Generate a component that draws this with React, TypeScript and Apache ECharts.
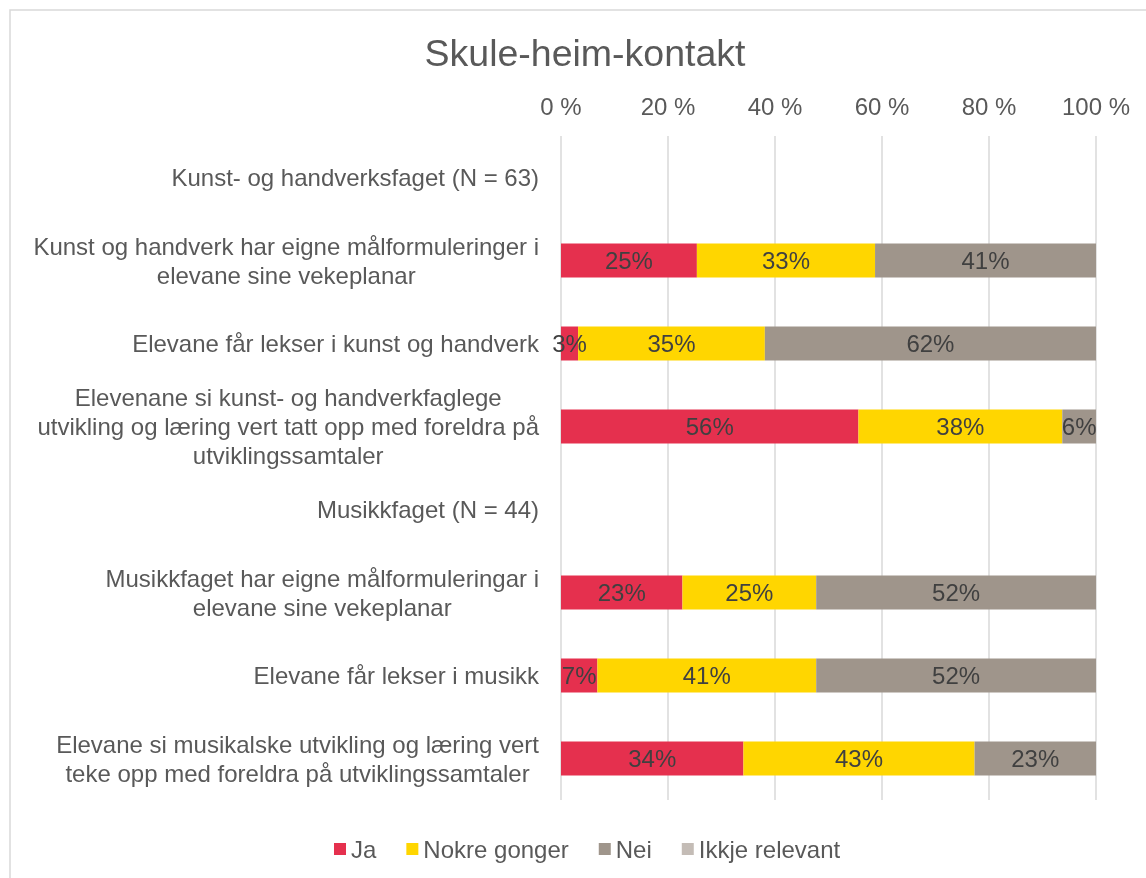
import React, { useEffect, useRef } from "react";
import * as echarts from "echarts";

const categories = [
  "Kunst- og handverksfaget (N = 63)",
  "Kunst og handverk har eigne målformuleringer i\nelevane sine vekeplanar",
  "Elevane får lekser i kunst og handverk",
  "Elevenane si kunst- og handverkfaglege\nutvikling og læring vert tatt opp med foreldra på\nutviklingssamtaler",
  "Musikkfaget (N = 44)",
  "Musikkfaget har eigne målformuleringar i\nelevane sine vekeplanar",
  "Elevane får lekser i musikk",
  "Elevane si musikalske utvikling og læring vert\nteke opp med foreldra på utviklingssamtaler",
];

const seriesNames = ["Ja", "Nokre gonger", "Nei", "Ikkje relevant"];
const ja = [null, 25.4, 3.2, 55.6, null, 22.7, 6.8, 34.1];
const nokre = [null, 33.3, 34.9, 38.1, null, 25.0, 40.9, 43.2];
const nei = [null, 41.3, 61.9, 6.3, null, 52.3, 52.3, 22.7];
const ikkje = [null, 0, 0, 0, null, 0, 0, 0];
const xTicks = [0, 20, 40, 60, 80, 100];

const colors = ["#E5304E", "#FFD600", "#9F958B", "#C4BCB6"];
const FONT = "'Liberation Sans', Arial, sans-serif";

function measure(text: string, size: number): number {
  const c = document.createElement("canvas");
  const ctx = c.getContext("2d");
  if (!ctx) return text.length * size * 0.5;
  ctx.font = `${size}px ${FONT}`;
  return ctx.measureText(text).width;
}

export default function App() {
  const ref = useRef<HTMLDivElement>(null);
  useEffect(() => {
    if (!ref.current) return;
    const chart = echarts.init(ref.current, null, { renderer: "svg" });
    const rich: Record<string, any> = {};
    categories.forEach((c, i) => {
      const w = Math.max(...c.split("\n").map((l) => measure(l, 24))) + 2;
      rich["r" + i] = {
        width: w,
        align: "center",
        fontSize: 24,
        lineHeight: 29,
        color: "#595959",
        fontFamily: FONT,
      };
    });
    const data = [ja, nokre, nei, ikkje];
    chart.setOption({
      animation: false,
      textStyle: { fontFamily: FONT },
      graphic: [
        {
          type: "rect",
          shape: { x: 10, y: 10, width: 1160, height: 890 },
          style: { fill: "none", stroke: "#d9d9d9", lineWidth: 1.5 },
          silent: true,
        },
      ],
      title: {
        text: "Skule-heim-kontakt",
        left: 580,
        top: 29,
        textAlign: "center",
        textStyle: {
          fontSize: 37.5,
          fontWeight: "normal",
          color: "#595959",
          fontFamily: FONT,
        },
      },
      legend: {
        data: seriesNames,
        left: 334,
        top: 837,
        padding: 0,
        itemGap: 30,
        itemWidth: 12,
        itemHeight: 12,
        icon: "rect",
        textStyle: { fontSize: 24, color: "#595959", fontFamily: FONT },
      },
      grid: { left: 561, right: 50, top: 136, height: 664, containLabel: false },
      xAxis: {
        type: "value",
        position: "top",
        min: xTicks[0],
        max: xTicks[xTicks.length - 1],
        interval: 20,
        axisLine: { show: false },
        axisTick: { show: false },
        axisLabel: {
          formatter: "{value} %",
          fontSize: 24,
          color: "#595959",
          margin: 18,
          fontFamily: FONT,
        },
        splitLine: { lineStyle: { color: "#d9d9d9", width: 1.5 } },
      },
      yAxis: {
        type: "category",
        inverse: true,
        data: categories,
        axisLine: { show: false },
        axisTick: { show: false },
        axisLabel: {
          margin: 21,
          formatter: (v: string, i: number) =>
            v
              .split("\n")
              .map((l) => `{r${i}|${l}}`)
              .join("\n"),
          rich,
        },
      },
      series: seriesNames.map((name, k) => ({
        name,
        type: "bar",
        stack: "total",
        barWidth: 34,
        data: data[k],
        itemStyle: { color: colors[k] },
        label: {
          show: k < 3,
          position: "inside",
          fontSize: 24,
          color: "#404040",
          fontFamily: FONT,
          formatter: (p: any) =>
            p.value == null || p.value === 0 ? "" : Math.round(p.value) + "%",
        },
      })),
    });
    return () => chart.dispose();
  }, []);
  return (
    <div
      ref={ref}
      style={{ position: "fixed", left: 0, top: 0, width: 1146, height: 878 }}
    />
  );
}
